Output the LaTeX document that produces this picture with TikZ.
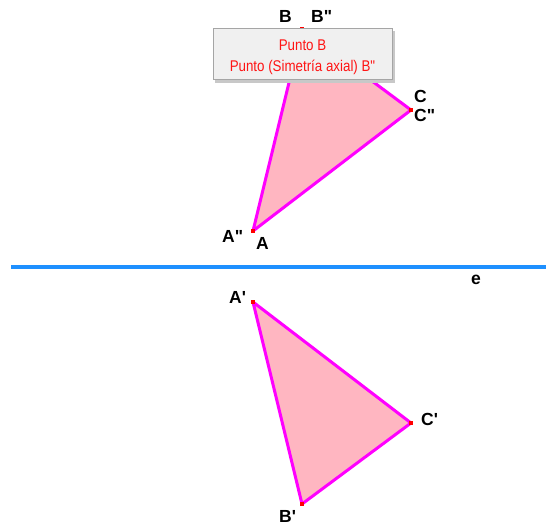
\documentclass[tikz,border=0pt]{standalone}
\usepackage{fontspec}
\newfontfamily\lblfont[Ligatures=TeXOff]{Liberation Sans}
\newfontfamily\tipfont[Ligatures=TeXOff,FakeStretch=0.86]{Liberation Sans}
\definecolor{axisblue}{RGB}{30,144,255}
\definecolor{trifill}{RGB}{255,182,193}
\definecolor{triedge}{RGB}{255,0,255}
\definecolor{tipbg}{RGB}{240,240,240}
\definecolor{tipborder}{RGB}{165,165,165}
\definecolor{tipshadow}{RGB}{200,200,200}
\definecolor{tipred}{RGB}{255,20,20}
\begin{document}
\begin{tikzpicture}[x=1pt,y=-1pt,
  tri/.style={fill=trifill,draw=triedge,line width=3pt,line join=round},
  vmark/.style={fill=red,inner sep=0pt,minimum size=4pt,draw=none,rectangle},
  lbl/.style={inner sep=0pt,anchor=base west,font=\lblfont\bfseries\fontsize{17.5}{19}\selectfont},
  tipline/.style={inner sep=0pt,anchor=base,text=tipred,font=\tipfont\fontsize{15.5}{18}\selectfont}]
\useasboundingbox (0,0) rectangle (546,526);
% axis
\coordinate (eL) at (11,267.5);
\coordinate (eR) at (546,267.5);
\draw[axisblue,line width=4pt] (eL) -- (eR);
\node[lbl] (le) at (471,285) {e};
% vertices
\coordinate (A) at (253,231);
\coordinate (B) at (302,29);
\coordinate (C) at (411,110);
\coordinate (Ap) at (253,302);
\coordinate (Bp) at (302,504);
\coordinate (Cp) at (411,423);
% triangles
\filldraw[tri] (A) -- (B) -- (C) -- cycle;
\filldraw[tri] (Ap) -- (Bp) -- (Cp) -- cycle;
% vertex markers
\node[vmark] (mA) at (A) {};
\node[vmark] (mB) at (B) {};
\node[vmark] (mC) at (C) {};
\node[vmark] (mAp) at (Ap) {};
\node[vmark] (mBp) at (Bp) {};
\node[vmark] (mCp) at (Cp) {};
% labels
\node[lbl] (lB) at (279,23) {B};
\node[lbl] (lBpp) at (311,23) {B"};
\node[lbl] (lC) at (414,103) {C};
\node[lbl] (lCpp) at (414,122) {C"};
\node[lbl] (lApp) at (222,243) {A"};
\node[lbl] (lA) at (256,250) {A};
\node[lbl] (lAp) at (229,304) {A'};
\node[lbl] (lCp) at (421,425) {C'};
\node[lbl] (lBp) at (279,522) {B'};
% tooltip
\fill[tipshadow] (215,31) rectangle (395,83);
\filldraw[fill=tipbg,draw=tipborder,line width=1pt] (213,29) rectangle (392,80);
\node[tipline] (t1) at (302.5,51) {Punto B};
\node[tipline] (t2) at (302.5,72) {Punto (Simetría axial) B"};
\end{tikzpicture}
\end{document}
